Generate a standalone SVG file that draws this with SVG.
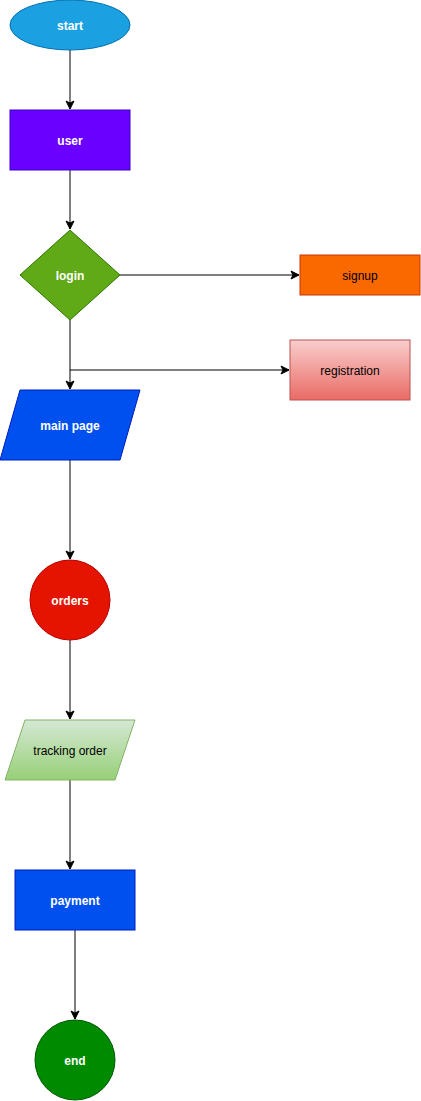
<svg xmlns="http://www.w3.org/2000/svg" width="421" height="1101" viewBox="0 0 421 1101">
<style>
text{font-family:"Liberation Sans",Arial,Helvetica,sans-serif;font-size:12px;text-anchor:middle;dominant-baseline:central}
.w{fill:#ffffff;font-weight:bold}
.b{fill:#000000}
.e{fill:none;stroke:#000000;stroke-width:1}
</style>
<defs>
<marker id="arr" markerWidth="10" markerHeight="10" viewBox="0 0 10 10" refX="9" refY="5" orient="auto" markerUnits="userSpaceOnUse">
<path d="M1,1 L9,5 L1,9 L3,5 Z" fill="#000000" stroke="#000000" stroke-width="1"/>
</marker>
<linearGradient id="gRed" x1="0" y1="0" x2="0" y2="1">
<stop offset="0" stop-color="#f8cecc"/><stop offset="1" stop-color="#ea6b66"/>
</linearGradient>
<linearGradient id="gGreen" x1="0" y1="0" x2="0" y2="1">
<stop offset="0" stop-color="#d5e8d4"/><stop offset="1" stop-color="#97d077"/>
</linearGradient>
</defs>
<g id="edges">
<path class="e" d="M70,50 L70,109" marker-end="url(#arr)"/>
<path class="e" d="M70,170 L70,229" marker-end="url(#arr)"/>
<path class="e" d="M120,275 L299,275" marker-end="url(#arr)"/>
<path class="e" d="M70,320 L70,389" marker-end="url(#arr)"/>
<path class="e" d="M70,370 L289,370" marker-end="url(#arr)"/>
<path class="e" d="M70,460 L70,559" marker-end="url(#arr)"/>
<path class="e" d="M70,640 L70,719" marker-end="url(#arr)"/>
<path class="e" d="M70,780 L70,869" marker-end="url(#arr)"/>
<path class="e" d="M75,930 L75,1019" marker-end="url(#arr)"/>
</g>
<g id="start">
<ellipse cx="70" cy="25" rx="60" ry="25" fill="#1ba1e2" stroke="#006eaf"/>
<text class="w" x="70" y="26">start</text>
</g>
<g id="user">
<rect x="10" y="110" width="120" height="60" fill="#6a00ff" stroke="#3700cc"/>
<text class="w" x="70" y="141">user</text>
</g>
<g id="login">
<polygon points="70,230 120,275 70,320 20,275" fill="#60a917" stroke="#2d7600"/>
<text class="w" x="70" y="276">login</text>
</g>
<g id="signup">
<rect x="300" y="255" width="120" height="40" fill="#fa6800" stroke="#c73500"/>
<text class="b" x="360" y="276">signup</text>
</g>
<g id="registration">
<rect x="290" y="340" width="120" height="60" fill="url(#gRed)" stroke="#b85450"/>
<text class="b" x="350" y="371">registration</text>
</g>
<g id="mainpage">
<polygon points="20,390 140,390 120,460 0,460" fill="#0050ef" stroke="#001dbc"/>
<text class="w" x="70" y="426">main page</text>
</g>
<g id="orders">
<circle cx="70" cy="600" r="40" fill="#e51400" stroke="#b20000"/>
<text class="w" x="70" y="601">orders</text>
</g>
<g id="tracking">
<polygon points="25,720 135,720 115,780 5,780" fill="url(#gGreen)" stroke="#82b366"/>
<text class="b" x="70" y="751">tracking order</text>
</g>
<g id="payment">
<rect x="15" y="870" width="120" height="60" fill="#0050ef" stroke="#001dbc"/>
<text class="w" x="75" y="901">payment</text>
</g>
<g id="end">
<circle cx="75" cy="1060" r="40" fill="#008a00" stroke="#005700"/>
<text class="w" x="75" y="1061">end</text>
</g>
</svg>
